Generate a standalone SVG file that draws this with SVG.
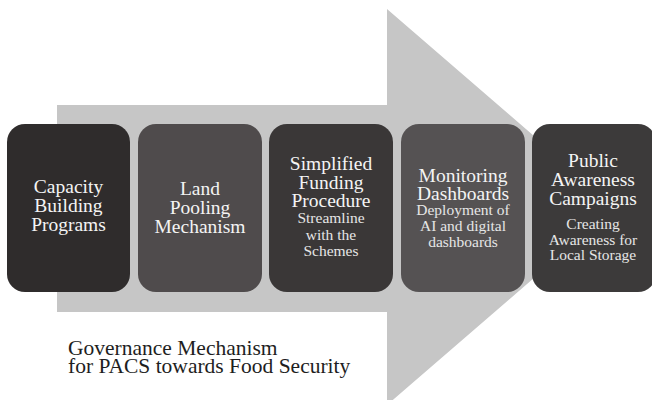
<svg xmlns="http://www.w3.org/2000/svg" width="652" height="400" viewBox="0 0 652 400">
<rect width="652" height="400" fill="#ffffff"/>
<polygon id="arrow" points="57,105 387,105 387,9 616,207 387,405 387,312 57,312" fill="#c6c6c6"/>
<g id="n1">
<rect x="7" y="124" width="123" height="168" rx="18" fill="#2f2c2c"/>
<g font-family="Liberation Serif" font-size="19.5" fill="#f4f4f4" text-anchor="middle">
<text x="68.5" y="193">Capacity</text>
<text x="68.5" y="212">Building</text>
<text x="68.5" y="231">Programs</text>
</g>
</g>
<g id="n2">
<rect x="138" y="124" width="124" height="168" rx="18" fill="#4f4b4c"/>
<g font-family="Liberation Serif" font-size="19.5" fill="#f4f4f4" text-anchor="middle">
<text x="200" y="195">Land</text>
<text x="200" y="214">Pooling</text>
<text x="200" y="233">Mechanism</text>
</g>
</g>
<g id="n3">
<rect x="269" y="124" width="124" height="168" rx="18" fill="#3a3737"/>
<g font-family="Liberation Serif" font-size="19.5" fill="#f4f4f4" text-anchor="middle">
<text x="331" y="170">Simplified</text>
<text x="331" y="189">Funding</text>
<text x="331" y="207">Procedure</text>
</g>
<g font-family="Liberation Serif" font-size="15.5" fill="#e6e6e6" text-anchor="middle">
<text x="331" y="223">Streamline</text>
<text x="331" y="240">with the</text>
<text x="331" y="256">Schemes</text>
</g>
</g>
<g id="n4">
<rect x="401" y="124" width="124" height="168" rx="18" fill="#555253"/>
<g font-family="Liberation Serif" font-size="19.5" fill="#f4f4f4" text-anchor="middle">
<text x="463" y="182">Monitoring</text>
<text x="463" y="200">Dashboards</text>
</g>
<g font-family="Liberation Serif" font-size="15.5" fill="#e6e6e6" text-anchor="middle">
<text x="463" y="215">Deployment of</text>
<text x="463" y="231">AI and digital</text>
<text x="463" y="247">dashboards</text>
</g>
</g>
<g id="n5">
<rect x="532" y="124" width="124" height="168" rx="18" fill="#3c3a3a"/>
<g font-family="Liberation Serif" font-size="19.5" fill="#f4f4f4" text-anchor="middle">
<text x="593" y="167">Public</text>
<text x="593" y="186">Awareness</text>
<text x="593" y="205">Campaigns</text>
</g>
<g font-family="Liberation Serif" font-size="15.5" fill="#e6e6e6" text-anchor="middle">
<text x="593" y="229">Creating</text>
<text x="593" y="245">Awareness for</text>
<text x="593" y="260">Local Storage</text>
</g>
</g>
<g id="connectors"></g>
<g id="caption" font-family="Liberation Serif" font-size="21.5" fill="#1e1e1e">
<text x="68" y="355">Governance Mechanism</text>
<text x="68" y="373">for PACS towards Food Security</text>
</g>
</svg>
